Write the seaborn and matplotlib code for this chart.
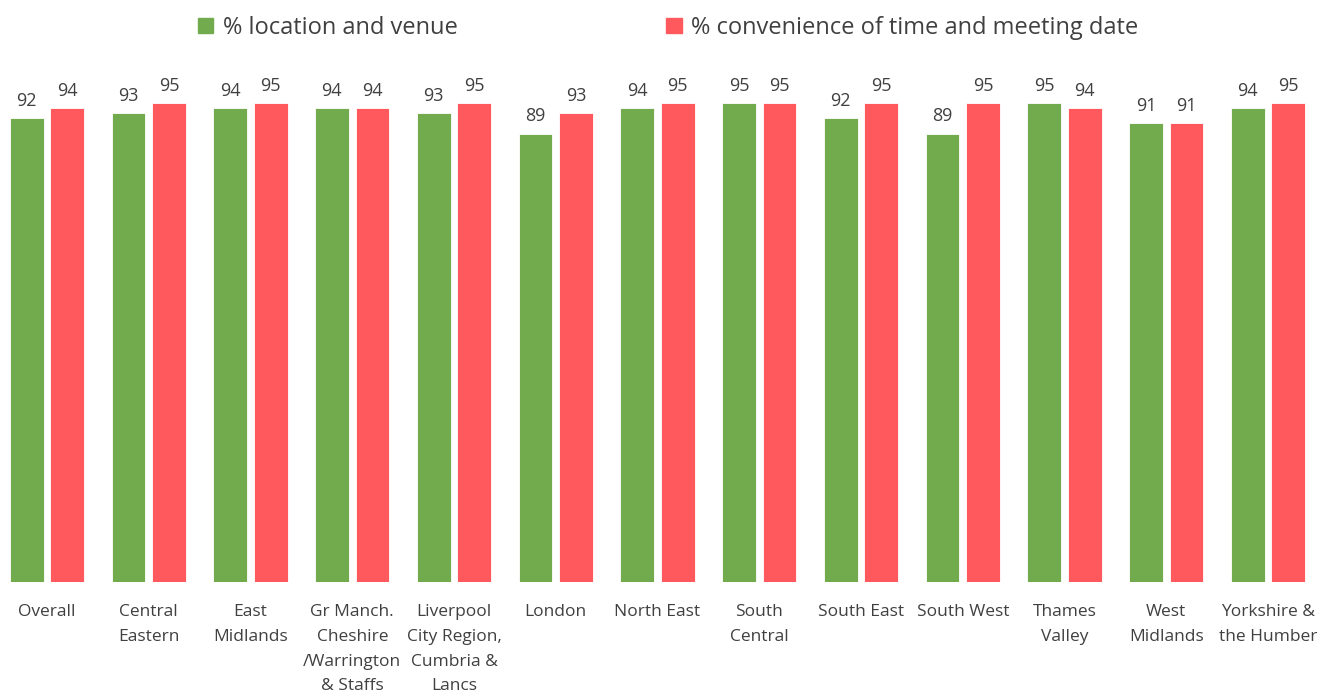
import pandas as pd
import matplotlib
matplotlib.use("Agg")
import matplotlib.pyplot as plt
import seaborn as sns

regions = [
    "Overall", "Central\nEastern", "East\nMidlands",
    "Gr Manch.\nCheshire\n/Warrington\n& Staffs",
    "Liverpool\nCity Region,\nCumbria &\nLancs",
    "London", "North East", "South\nCentral", "South East", "South West",
    "Thames\nValley", "West\nMidlands", "Yorkshire &\nthe Humber",
]
location_venue = [92, 93, 94, 94, 93, 89, 94, 95, 92, 89, 95, 91, 94]
convenience_time = [94, 95, 95, 94, 95, 93, 95, 95, 95, 95, 94, 91, 95]
series_names = ["% location and venue", "% convenience of time and meeting date"]
colors = ["#72AA4E", "#FF595E"]

df = pd.DataFrame({
    "Region": regions * 2,
    "Value": location_venue + convenience_time,
    "Series": [series_names[0]] * len(regions) + [series_names[1]] * len(regions),
})

sns.set_theme(style="white")
plt.rcParams["font.family"] = ["Open Sans", "DejaVu Sans"]
text_color = "#404040"

fig = plt.figure(figsize=(13.31, 6.95), dpi=100)
ax = fig.add_axes([0.0, 113 / 695, 1.0, 522 / 695])

sns.barplot(data=df, x="Region", y="Value", hue="Series", palette=colors,
            width=0.8, gap=0.17, edgecolor="white", linewidth=0.6,
            saturation=1, ax=ax, legend=False)

for container in ax.containers:
    ax.bar_label(container, fmt="%d", padding=6, fontsize=13, color=text_color)

ax.set_xlim(-47 / 101.75, (1331 - 47) / 101.75)
ax.set_ylim(0, 103.6)
ax.set_xlabel("")
ax.set_ylabel("")
ax.set_yticks([])
ax.tick_params(axis="x", length=0, pad=16, labelsize=12.5, colors=text_color)
for lbl in ax.get_xticklabels():
    lbl.set_linespacing(1.72)
    lbl.set_verticalalignment("top")
for s in ax.spines.values():
    s.set_visible(False)

# legend across the top
handles = [plt.Rectangle((0, 0), 1, 1, color=c) for c in colors]
fig.legend(handles, series_names, loc="upper center", bbox_to_anchor=(0.502, 1.008),
           ncol=2, frameon=False, fontsize=17, handlelength=0.65, handleheight=0.65,
           handletextpad=0.4, columnspacing=8.85, labelcolor=text_color)

fig.savefig("out.png", dpi=100)
